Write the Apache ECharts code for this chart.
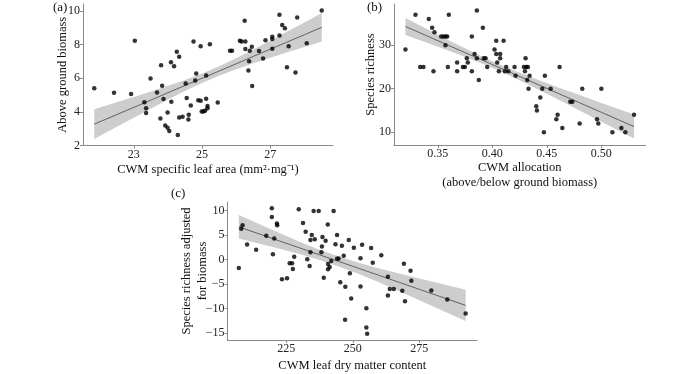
<!DOCTYPE html>
<html><head><meta charset="utf-8">
<script src="https://cdn.jsdelivr.net/npm/echarts@6/dist/echarts.min.js"></script>
<style>html,body{margin:0;padding:0;background:#fff}#c{width:700px;height:374px}</style>
</head><body><div id="c"></div>
<script>
// ---- Panel (a): CWM specific leaf area vs above ground biomass ----
const aX = [21.84,22.42,22.92,23.03,23.31,23.36,23.36,23.49,23.68,23.78,23.80,23.83,23.87,23.92,23.99,23.99,24.04,24.09,24.10,24.18,24.26,24.29,24.33,24.33,24.43,24.52,24.55,24.60,24.61,24.67,24.75,24.80,24.83,24.89,24.96,24.96,24.99,25.04,25.09,25.12,25.12,25.16,25.16,25.23,25.46,25.82,25.88,26.11,26.16,26.25,26.27,26.27,26.36,26.38,26.40,26.46,26.47,26.67,26.79,26.86,27.06,27.06,27.06,27.27,27.27,27.35,27.43,27.49,27.54,27.74,27.79,28.07,28.51];
const aY = [5.40,5.14,5.06,8.23,4.58,4.21,3.93,5.99,5.16,3.61,6.77,5.56,4.76,3.19,3.97,3.06,2.86,6.96,4.60,6.71,7.58,2.62,7.28,3.67,3.71,5.69,4.82,3.55,3.83,4.38,8.19,5.87,6.29,4.70,4.66,7.90,4.03,4.03,4.07,6.17,4.78,4.35,4.21,8.02,4.56,7.64,7.64,8.23,8.19,9.42,8.19,7.74,6.47,7.02,7.64,7.88,5.54,7.62,7.18,8.27,8.47,8.33,7.76,8.55,9.78,9.17,8.97,6.65,7.90,6.35,9.62,8.08,10.04];
const aFitX = [21.84,22.5,23,23.5,24,24.5,25,25.5,26,26.5,27,27.5,28,28.51];
const aFit  = [3.27,3.84,4.27,4.70,5.14,5.57,6.00,6.43,6.86,7.30,7.73,8.16,8.59,9.03];
const aLo   = [2.39,3.11,3.65,4.19,4.73,5.24,5.72,6.15,6.53,6.89,7.22,7.55,7.86,8.19];
const aHi   = [4.15,4.57,4.89,5.21,5.55,5.90,6.28,6.71,7.19,7.71,8.24,8.78,9.32,9.88];
const aXTicks = [23,25,27];
const aYTicks = [2,4,6,8,10];

// ---- Panel (b): CWM allocation vs species richness ----
const bX = [0.3203,0.3295,0.3338,0.3368,0.3417,0.3448,0.3460,0.3469,0.3531,0.3552,0.3570,0.3586,0.3570,0.3592,0.3601,0.3677,0.3677,0.3730,0.3748,0.3766,0.3775,0.3812,0.3812,0.3837,0.3858,0.3858,0.3876,0.3913,0.3922,0.3938,0.3953,0.4020,0.4036,0.4036,0.4045,0.4060,0.4072,0.4072,0.4103,0.4115,0.4127,0.4146,0.4204,0.4213,0.4290,0.4299,0.4305,0.4311,0.4326,0.4320,0.4332,0.4342,0.4403,0.4409,0.4440,0.4458,0.4473,0.4482,0.4535,0.4587,0.4599,0.4617,0.4642,0.4715,0.4734,0.4801,0.4825,0.4960,0.4972,0.5000,0.5101,0.5184,0.5220,0.5300];
const bY = [29,37,25,25,36,34,24,33,32,32,32,32,30,25,37,26,24,25,25,27,26,32,24,28,38,27,22,34,27,27,25,29,31,28,26,24,28,27,31,24,25,24,25,23,25,24,27,25,25,22,20,23,16,15,18,20,10,23,20,13,14,25,11,17,17,12,20,13,12,20,10,11,10,14];
const bFitX = [0.3203,0.34,0.36,0.38,0.40,0.42,0.44,0.46,0.48,0.50,0.53];
const bFit  = [34.30,32.14,29.94,27.75,25.56,23.36,21.17,18.97,16.78,14.59,11.30];
const bLo   = [32.35,30.57,28.73,26.83,24.80,22.55,20.12,17.58,15.02,12.44,8.54];
const bHi   = [36.25,33.71,31.15,28.67,26.32,24.18,22.23,20.36,18.54,16.74,14.06];
const bXTicks = [0.35,0.40,0.45,0.50];
const bYTicks = [10,20,30];

// ---- Panel (c): CWM leaf dry matter content vs adjusted richness ----
const cX = [207.2,208.1,208.6,210.3,213.7,217.5,219.6,219.6,220.0,220.5,221.5,221.6,223.4,225.3,226.3,227.2,227.5,228.0,229.7,231.3,232.3,232.9,233.8,234.1,234.1,234.6,235.3,235.7,237.2,238.4,238.2,238.6,239.1,239.8,240.6,240.7,240.7,241.3,241.9,242.8,243.5,244.1,244.1,244.7,245.3,245.9,246.6,247.2,247.1,248.5,248.9,249.4,250.4,252.9,252.9,253.5,255.1,255.1,255.4,256.9,257.5,260.7,263.2,263.2,263.9,265.4,268.6,269.2,269.6,271.7,272.0,279.5,285.5,292.4];
const cY = [-1.70,6.28,7.0,3.08,2.02,4.88,10.47,8.67,1.09,4.28,7.34,7.0,-4.03,-3.83,-0.77,-0.77,-1.90,0.56,10.27,7.47,5.68,0.09,-1.30,4.02,1.49,5.01,9.93,4.15,9.93,2.69,1.49,4.61,-3.70,3.82,7.14,-0.90,-1.97,-1.50,-0.31,9.93,3.15,5.01,0.16,0.23,-4.63,2.82,0.76,-5.56,-12.27,4.02,-2.77,-7.95,2.42,0.29,-5.49,3.02,-9.95,-13.87,-15.13,2.35,-0.64,0.89,-3.50,-7.35,-6.02,-6.02,-6.36,-0.84,-8.48,-2.30,-4.30,-6.29,-8.15,-11.0];
const cFitX = [207.2,215,222.5,230,237.5,245,252.5,260,267.5,275,282.5,292.4];
const cFit  = [6.68,5.21,3.80,2.39,0.98,-0.43,-1.84,-3.25,-4.66,-6.07,-7.48,-9.35];
const cLo   = [4.28,3.23,2.20,1.12,-0.07,-1.44,-3.00,-4.70,-6.47,-8.28,-10.11,-12.55];
const cHi   = [9.08,7.19,5.40,3.66,2.03,0.58,-0.68,-1.80,-2.85,-3.86,-4.85,-6.15];
const cXTicks = [225,250,275];
const cYTicks = [-15,-10,-5,0,5,10];

const F = 'Liberation Serif';
const AX = '#8a8a8a';

function axis(gi, min, max, ticks, fmt, name, gap, isY) {
  const o = {
    type: 'value', gridIndex: gi, min: min, max: max,
    name: name, nameLocation: 'middle', nameGap: gap, nameMoveOverlap: false,
    nameTextStyle: { fontFamily: F, fontSize: 12.5, color: '#111', lineHeight: 15.5 },
    axisLine: { show: true, onZero: false, lineStyle: { color: AX, width: 1 } },
    axisTick: { show: true, length: 3, lineStyle: { color: AX }, customValues: ticks },
    axisLabel: { customValues: ticks, formatter: fmt, fontFamily: F, fontSize: 12, color: '#222', margin: 3 },
    splitLine: { show: false }
  };
  if (isY) o.nameRotate = 90;
  return o;
}
const plain = v => String(v);
const two = v => v.toFixed(2);
const minus = v => v < 0 ? '\u2212' + Math.abs(v) : String(v);

function pts(xs, ys) { return xs.map((x, i) => [x, ys[i]]); }
function band(gi, xs, lo, hi) {
  return {
    type: 'custom', xAxisIndex: gi, yAxisIndex: gi, silent: true, z: 1,
    data: xs.map((x, i) => [x, lo[i], hi[i]]),
    encode: { x: 0, y: [1, 2] },
    renderItem: function (params, api) {
      if (params.dataIndex !== 0) return null;
      const p = [];
      for (let i = 0; i < xs.length; i++) p.push(api.coord([xs[i], hi[i]]));
      for (let i = xs.length - 1; i >= 0; i--) p.push(api.coord([xs[i], lo[i]]));
      return { type: 'polygon', shape: { points: p }, style: { fill: '#cdcdcd' } };
    }
  };
}
function fit(gi, xs, ys) {
  return { type: 'line', xAxisIndex: gi, yAxisIndex: gi, data: pts(xs, ys), showSymbol: false,
    silent: true, z: 2, lineStyle: { color: '#555', width: 0.9 } };
}
function scat(gi, xs, ys) {
  return { type: 'scatter', xAxisIndex: gi, yAxisIndex: gi, data: pts(xs, ys), symbolSize: 4.5,
    z: 3, itemStyle: { color: '#000' } };
}

const chart = echarts.init(document.getElementById('c'), null, { renderer: 'canvas' });
chart.setOption({
  backgroundColor: '#fff',
  animation: false,
  grid: [
    { left: 83, top: 4, width: 250, height: 141.5, containLabel: false },
    { left: 394, top: 4, width: 251.5, height: 141, containLabel: false },
    { left: 227.5, top: 202, width: 249.5, height: 140.5, containLabel: false }
  ],
  xAxis: [
    axis(0, 21.51, 28.84, aXTicks, plain, 'CWM specific leaf area (mm²·mg⁻¹)', 16, false),
    axis(1, 0.3098, 0.5405, bXTicks, two, 'CWM allocation\n(above/below ground biomass)', 14.5, false),
    axis(2, 202.94, 296.66, cXTicks, plain, 'CWM leaf dry matter content', 17.5, false)
  ],
  yAxis: [
    axis(0, 2.0, 10.42, aYTicks, plain, 'Above ground biomass', 13, true),
    axis(1, 7.07, 39.47, bYTicks, plain, 'Species richness', 16, true),
    axis(2, -16.41, 11.75, cYTicks, minus, 'Species richness adjusted\nfor biomass', 17.5, true)
  ],
  series: [
    band(0, aFitX, aLo, aHi), fit(0, aFitX, aFit), scat(0, aX, aY),
    band(1, bFitX, bLo, bHi), fit(1, bFitX, bFit), scat(1, bX, bY),
    band(2, cFitX, cLo, cHi), fit(2, cFitX, cFit), scat(2, cX, cY)
  ],
  graphic: [
    { type: 'text', left: 53, top: 1, style: { text: '(a)', font: '13px "Liberation Serif"', fill: '#111' } },
    { type: 'text', left: 367, top: 1, style: { text: '(b)', font: '13px "Liberation Serif"', fill: '#111' } },
    { type: 'text', left: 171, top: 187, style: { text: '(c)', font: '13px "Liberation Serif"', fill: '#111' } }
  ]
});
</script></body></html>
